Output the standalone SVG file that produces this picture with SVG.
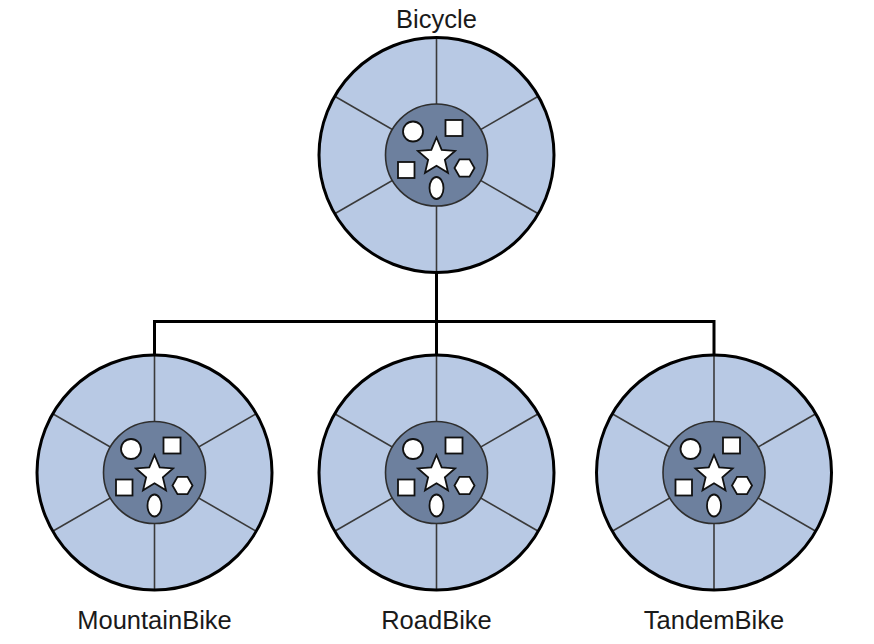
<svg xmlns="http://www.w3.org/2000/svg" xmlns:xlink="http://www.w3.org/1999/xlink" width="874" height="644" viewBox="0 0 874 644">
<style>
.lbl{font-family:"Liberation Sans",Arial,sans-serif;font-size:25.5px;fill:#1a1a1a;text-anchor:middle}
.conn{fill:none;stroke:#000;stroke-width:3}
.spoke{stroke:#3a3a3a;stroke-width:1.6}
.shp{fill:#fff;stroke:#111;stroke-width:1.8}
</style>
<defs>
<g id="wheel">
<circle r="117.5" fill="#b8c9e4"/>
<line class="spoke" x1="0" y1="-117.5" x2="0" y2="117.5"/>
<line class="spoke" x1="-101.8" y1="-58.75" x2="101.8" y2="58.75"/>
<line class="spoke" x1="-101.8" y1="58.75" x2="101.8" y2="-58.75"/>
<circle r="51" fill="#6d809e" stroke="#2e2e2e" stroke-width="1.6"/>
<circle class="shp" cx="-23.5" cy="-23.5" r="10"/>
<rect class="shp" x="9" y="-35" width="17" height="16"/>
<rect class="shp" x="-38.5" y="7" width="16.5" height="16"/>
<polygon class="shp" transform="translate(0,2)" points="0,-19.5 5.2,-7.1 18.55,-6.03 8.37,2.72 11.46,15.78 0,8.8 -11.46,15.78 -8.37,2.72 -18.55,-6.03 -5.2,-7.1"/>
<polygon class="shp" transform="translate(28,13)" points="10,0 5,8.66 -5,8.66 -10,0 -5,-8.66 5,-8.66"/>
<ellipse class="shp" cx="0" cy="33" rx="7" ry="11"/>
<circle r="117.5" fill="none" stroke="#000" stroke-width="3"/>
</g>
</defs>
<g id="connectors">
<polyline class="conn" points="436.5,272 436.5,321.5"/>
<polyline class="conn" points="154.5,355 154.5,321.5 714,321.5 714,355"/>
<polyline class="conn" points="436.5,321.5 436.5,355"/>
</g>
<g id="bicycle">
<use xlink:href="#wheel" href="#wheel" transform="translate(436.5,155)"/>
<text class="lbl" x="436.5" y="28">Bicycle</text>
</g>
<g id="mountainbike">
<use xlink:href="#wheel" href="#wheel" transform="translate(154.5,472.5)"/>
<text class="lbl" x="154.5" y="629">MountainBike</text>
</g>
<g id="roadbike">
<use xlink:href="#wheel" href="#wheel" transform="translate(436.5,472.5)"/>
<text class="lbl" x="436.5" y="629">RoadBike</text>
</g>
<g id="tandembike">
<use xlink:href="#wheel" href="#wheel" transform="translate(714,472.5)"/>
<text class="lbl" x="714" y="629">TandemBike</text>
</g>
</svg>
